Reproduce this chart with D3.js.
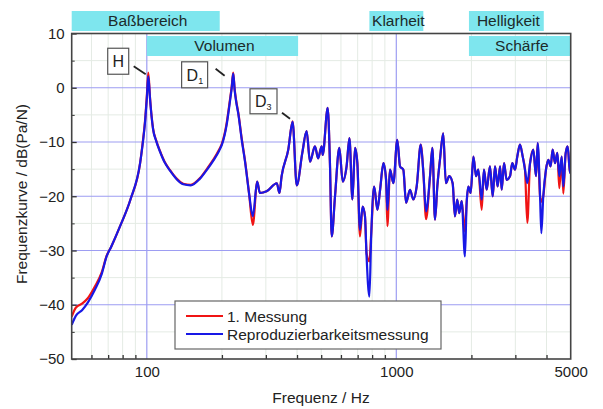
<!DOCTYPE html>
<html><head><meta charset="utf-8">
<script src="https://cdn.jsdelivr.net/npm/d3@7"></script>
<style>
body{margin:0;background:#fff;}
text{font-family:"Liberation Sans",Arial,sans-serif;}
</style></head>
<body><svg id="c" width="603" height="409"></svg>
<script>
// ---- data ----
const freq = [50,52,55,58,62,66,69,72,78,
 86,94,96,98.3,100,101.4,103,104.5,106,109,113,118,124,132,140,150,163,175,185,195,200,209,215,219,222,225,228,233,240,248,257,266,
 277,284,302,332,340,347,369,384,399,420,437,451,472,486,502,507,531,542,551,568,591,610,632,649,667,683,698,715,733,749,760,780,793,815,840,861,888,910,921,944,973,1009,1035,1067,1094,1135,1170,1207,1253,1284,1316,1365,1395,1429,1460,1496,1542,1580,1630,1682,1718,1755,1787,1828,1884,1914,1944,1986,2037,2087,2131,2199,2246,2302,2373,2434,2487,2547,2606,2645,2702,2770,2856,2916,2991,3054,3131,3211,3279,3350,3436,3541,3630,3688,3768,3813,3882,3980,4066,4155,4233,4325,4420,4501,4602,4670,4775,4864,4966,5000];
const messung1 = [-42.2,-40.5,-39.8,-38.8,-36.6,-34.0,-31.0,-29.3,-25.6,
 -20.6,-13.9,-10.6,-6.3,-1.6,2.8,-1.8,-5.2,-7.6,-9.7,-11.7,-13.7,-15.2,-16.8,-17.7,-17.9,-16.7,-14.8,-13.2,-11.4,-10.3,-6.5,-2.5,0.3,2.8,-0.3,-2.3,-4.8,-9.3,-13.7,-19.5,-25.3,
 -17.3,-19.4,-19.1,-17.6,-19.4,-16.3,-11.4,-6.2,-18.0,-12.0,-8.0,-13.6,-10.8,-13.0,-10.8,-12.4,-3.7,-13.9,-27.4,-20.0,-11.1,-17.3,-14.5,-9.3,-20.6,-11.1,-13.9,-27.4,-21.9,-23.7,-30.5,-32.0,-27.0,-18.2,-22.5,-18.8,-13.9,-17.0,-25.5,-15.1,-17.6,-9.6,-14.5,-15.1,-21.2,-18.8,-20.6,-18.2,-10.5,-15.7,-24.2,-16.3,-11.1,-24.3,-18.2,-13.3,-8.4,-17.6,-16.3,-17.6,-23.7,-20.6,-23.1,-20.9,-26.5,-21.2,-18.2,-19.4,-12.7,-16.3,-15.1,-22.5,-15.1,-18.8,-14.5,-20.0,-14.5,-18.2,-14.5,-18.8,-13.9,-17.0,-16.3,-13.9,-15.1,-12.7,-10.5,-12.7,-15.1,-24.9,-13.9,-11.4,-16.3,-10.2,-20.0,-21.0,-20.0,-15.1,-13.3,-14.5,-11.4,-13.9,-12.0,-18.5,-12.7,-19.5,-12.0,-10.8,-15.7,-14.5];
const reproduzierbarkeit = [-43.7,-42.0,-41.0,-39.6,-37.2,-34.3,-31.1,-29.3,-25.6,
 -20.6,-13.9,-10.8,-6.5,-2.0,2.1,-2.0,-5.3,-7.7,-9.8,-11.8,-13.8,-15.3,-16.9,-17.8,-18.0,-16.8,-15.0,-13.4,-11.6,-10.5,-6.8,-2.8,0.0,2.6,-0.5,-2.5,-5.0,-9.5,-13.9,-19.5,-23.7,
 -17.3,-19.4,-19.1,-17.6,-19.4,-16.3,-11.4,-6.3,-18.0,-12.0,-8.0,-13.6,-10.8,-13.0,-10.8,-12.4,-3.7,-13.9,-27.4,-20.0,-11.1,-17.3,-14.5,-9.3,-20.6,-11.1,-13.9,-26.2,-21.9,-23.7,-31.1,-38.5,-27.4,-18.2,-22.5,-18.8,-13.9,-17.0,-22.5,-15.1,-17.6,-9.6,-14.5,-15.1,-21.2,-18.8,-20.6,-18.2,-10.5,-15.7,-22.8,-16.3,-11.1,-24.3,-18.2,-13.3,-8.4,-17.6,-16.3,-17.6,-23.7,-20.6,-23.1,-20.9,-31.1,-21.2,-18.2,-19.4,-12.7,-16.3,-15.1,-20.6,-15.1,-18.8,-14.5,-20.0,-14.5,-18.2,-14.5,-18.8,-13.9,-17.0,-16.3,-13.9,-15.1,-12.7,-10.5,-12.7,-15.1,-17.6,-13.9,-11.4,-16.3,-10.2,-20.0,-26.8,-20.0,-15.1,-13.3,-14.5,-11.4,-13.9,-12.0,-16.3,-12.7,-18.2,-12.0,-10.8,-15.7,-14.5];
const seriesNames = ["1. Messung","Reproduzierbarkeitsmessung"];
const yTicks = [-50,-40,-30,-20,-10,0,10];
const yMinorTicks = [-45,-35,-25,-15,-5,5];
const xTicks = [100,1000,5000];
const xMinorTicks = [60,70,80,90,200,300,400,500,600,700,800,900,2000,3000,4000];
const bandLabels = ["Baßbereich","Volumen","Klarheit","Helligkeit","Schärfe"];
const bandFrom = [50,100,780,1955,1955];
const bandTo = [196,404,1283,3900,5000];
const bandRow = [0,1,0,0,1];
const peakLabels = ["H","D","D"];
const peakSubs = ["","1","3"];
const peakFreq = [101.4,222,384];
const peakVal = [2.6,2.7,-6.2];

// ---- layout ----
const svg = d3.select("#c");
const L=71.7, R=570.7, T=33.5, B=359;
const x = d3.scaleLog().domain([50,5000]).range([L,R]);
const y = d3.scaleLinear().domain([-50,10]).range([B,T]);

// minor grid
const g = svg.append("g");
g.selectAll(".mx").data(xMinorTicks).enter().append("line")
 .attr("x1",d=>x(d)).attr("x2",d=>x(d)).attr("y1",T).attr("y2",B)
 .attr("stroke","#e4ebe4").attr("stroke-width",1);
g.selectAll(".my").data(yMinorTicks).enter().append("line")
 .attr("x1",L).attr("x2",R).attr("y1",d=>y(d)).attr("y2",d=>y(d))
 .attr("stroke","#e4ebe4").attr("stroke-width",1);
// major grid
g.selectAll(".Mx").data([100,1000]).enter().append("line")
 .attr("x1",d=>x(d)).attr("x2",d=>x(d)).attr("y1",T).attr("y2",B)
 .attr("stroke","#9d9df2").attr("stroke-width",1.2);
g.selectAll(".My").data(yTicks.filter(d=>d>-50&&d<10)).enter().append("line")
 .attr("x1",L).attr("x2",R).attr("y1",d=>y(d)).attr("y2",d=>y(d))
 .attr("stroke","#9d9df2").attr("stroke-width",1.2);

// bands
const rowY = [[11,31],[36,56]];
bandLabels.forEach((lab,i)=>{
  const x0=x(bandFrom[i]), x1=x(bandTo[i]), r=rowY[bandRow[i]];
  svg.append("rect").attr("x",x0).attr("y",r[0]).attr("width",x1-x0).attr("height",r[1]-r[0])
    .attr("fill","#7ee6ee");
  svg.append("text").attr("x",(x0+x1)/2+2).attr("y",r[1]-5).attr("text-anchor","middle")
    .attr("font-size",15.5).attr("fill","#1c2b2b").text(lab);
});

// curves
svg.append("clipPath").attr("id","pc").append("rect").attr("x",L).attr("y",T).attr("width",R-L).attr("height",B-T);
const line = d3.line().x(d=>x(d[0])).y(d=>y(d[1])).curve(d3.curveMonotoneX);
const colors = ["#f01414","#1818e6"];
[messung1,reproduzierbarkeit].forEach((vals,i)=>{
  svg.append("path").datum(freq.map((f,j)=>[f,vals[j]]))
    .attr("d",line).attr("fill","none").attr("stroke",colors[i]).attr("stroke-width",2.2)
    .attr("stroke-linejoin","round").attr("clip-path","url(#pc)");
});

// axes
const ax = svg.append("g").attr("transform",`translate(${L},0)`)
 .call(d3.axisLeft(y).tickValues(yTicks).tickSize(-5).tickPadding(7).tickFormat(d3.format("d")));
ax.select(".domain").remove();
ax.selectAll("text").attr("font-size",15).attr("fill","#222").style("font-family","Liberation Sans, Arial, sans-serif");
ax.selectAll("line").attr("stroke","#333").attr("stroke-width",1.3);
const axm = svg.append("g").attr("transform",`translate(${L},0)`)
 .call(d3.axisLeft(y).tickValues(yMinorTicks).tickSize(-3).tickFormat(""));
axm.select(".domain").remove(); axm.selectAll("line").attr("stroke","#333");

const bx = svg.append("g").attr("transform",`translate(0,${B})`)
 .call(d3.axisBottom(x).tickValues(xTicks).tickSize(0).tickPadding(7.5).tickFormat(d3.format("d")));
bx.select(".domain").remove();
bx.selectAll("text").attr("font-size",15).attr("fill","#222").style("font-family","Liberation Sans, Arial, sans-serif");
const bxm = svg.append("g").attr("transform",`translate(0,${B})`)
 .call(d3.axisBottom(x).tickValues(xMinorTicks).tickSize(-4).tickFormat(""));
bxm.select(".domain").remove(); bxm.selectAll("line").attr("stroke","#333").attr("stroke-width",1.3);

// frame
svg.append("rect").attr("x",L).attr("y",T).attr("width",R-L).attr("height",B-T)
 .attr("fill","none").attr("stroke","#444").attr("stroke-width",1.6);

// axis titles
svg.append("text").attr("x",321).attr("y",403).attr("text-anchor","middle").attr("font-size",15.5).attr("fill","#222").text("Frequenz / Hz");
svg.append("text").attr("transform","translate(27,194) rotate(-90)").attr("text-anchor","middle").attr("font-size",15.5).attr("fill","#222").text("Frequenzkurve / dB(Pa/N)");

// peak annotations
const boxOff = [[-40.6,-25.4,21,26],[-51.6,-11.3,26,26],[-42.6,-32.6,27,25]];
const leadOff = [[-14.6,-7.4,-2.6,0.6],[-17.6,-4.3,-8.6,2.7],[-10.6,-8.6,-2.6,-2.6]];
peakLabels.forEach((lab,i)=>{
  const px=x(peakFreq[i]), py=y(peakVal[i]);
  const b=boxOff[i], l=leadOff[i];
  svg.append("line").attr("x1",px+l[0]).attr("y1",py+l[1]).attr("x2",px+l[2]).attr("y2",py+l[3])
    .attr("stroke","#222").attr("stroke-width",1.8);
  svg.append("rect").attr("x",px+b[0]).attr("y",py+b[1]).attr("width",b[2]).attr("height",b[3])
    .attr("fill","#fff").attr("stroke","#555").attr("stroke-width",1.2);
  const t = svg.append("text").attr("x",px+b[0]+(peakSubs[i]?5:b[2]/2)).attr("y",py+b[1]+b[3]/2+6)
    .attr("text-anchor",peakSubs[i]?"start":"middle").attr("font-size",16).attr("fill","#222").text(lab);
  if(peakSubs[i]) t.append("tspan").attr("font-size",9).attr("dy",3).text(peakSubs[i]);
});

// legend
const lg = svg.append("g");
lg.append("rect").attr("x",175).attr("y",301).attr("width",266).attr("height",48)
  .attr("fill","#fff").attr("stroke","#666").attr("stroke-width",1.2);
seriesNames.forEach((n,i)=>{
  const yy = 316 + i*18;
  lg.append("line").attr("x1",186).attr("x2",223).attr("y1",yy).attr("y2",yy).attr("stroke",colors[i]).attr("stroke-width",2.2);
  lg.append("text").attr("x",227).attr("y",yy+5.5).attr("font-size",15.5).attr("fill","#222").text(n);
});
</script></body></html>
